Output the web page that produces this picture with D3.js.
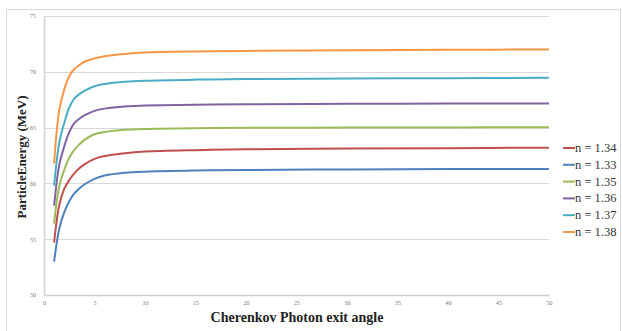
<!DOCTYPE html>
<html>
<head>
<meta charset="utf-8">
<script src="https://cdn.jsdelivr.net/npm/d3@7"></script>
<style>
  body { margin: 0; background: #fff; }
  text { font-family: "Liberation Serif", "Times New Roman", serif; }
</style>
</head>
<body>
<div id="chart"></div>
<script>
// angle values (x) shared by every series
const angles = [1, 1.5, 2, 2.5, 3, 3.5, 4, 5, 6, 8, 10, 15, 20, 30, 40, 50];

// one list of particle energies (MeV) per refractive index, legend order
const seriesNames = ["n = 1.34", "n = 1.33", "n = 1.35", "n = 1.36", "n = 1.37", "n = 1.38"];
const energyN134 = [54.7, 58.0, 59.5, 60.3, 60.9, 61.35, 61.7, 62.2, 62.45, 62.7, 62.85, 62.98, 63.05, 63.12, 63.16, 63.2];
const energyN133 = [53.0, 55.9, 57.4, 58.4, 59.1, 59.55, 59.9, 60.4, 60.7, 60.95, 61.05, 61.15, 61.2, 61.25, 61.28, 61.3];
const energyN135 = [56.4, 59.7, 61.2, 62.3, 63.0, 63.5, 63.9, 64.4, 64.6, 64.8, 64.88, 64.95, 64.98, 65.0, 65.02, 65.03];
const energyN136 = [58.0, 61.6, 63.3, 64.6, 65.4, 65.8, 66.1, 66.5, 66.7, 66.9, 66.97, 67.05, 67.1, 67.13, 67.15, 67.17];
const energyN137 = [59.8, 63.6, 65.4, 66.8, 67.6, 68.0, 68.3, 68.7, 68.9, 69.1, 69.2, 69.3, 69.35, 69.4, 69.43, 69.46];
const energyN138 = [61.8, 66.5, 68.4, 69.6, 70.25, 70.6, 70.9, 71.2, 71.4, 71.6, 71.72, 71.82, 71.87, 71.93, 71.97, 72.0];

const xTicks = [0, 5, 10, 15, 20, 25, 30, 35, 40, 45, 50];
const yTicks = [50, 55, 60, 65, 70, 75];

const colors = ["#C0504D", "#4F81BD", "#9BBB59", "#8064A2", "#4BACC6", "#F79646"];
const allSeries = [energyN134, energyN133, energyN135, energyN136, energyN137, energyN138];

const config = {
  width: 622,
  height: 331,
  margin: { top: 16, right: 73, bottom: 36, left: 44 }
};
config.innerW = config.width - config.margin.left - config.margin.right;
config.innerH = config.height - config.margin.top - config.margin.bottom;

const svg = d3.select("#chart").append("svg")
  .attr("width", config.width)
  .attr("height", config.height);

// outer chart frame
svg.append("rect")
  .attr("x", 6.5).attr("y", 9.5)
  .attr("width", 614).attr("height", 340)
  .attr("fill", "none")
  .attr("stroke", "#d9d9d9");

const g = svg.append("g")
  .attr("transform", `translate(${config.margin.left},${config.margin.top})`);

const x = d3.scaleLinear().domain([0, 50]).range([0, config.innerW]);
const y = d3.scaleLinear().domain([50, 75]).range([config.innerH, 0]);

// gridlines
g.append("g")
  .selectAll("line")
  .data(yTicks.filter(d => d > 50))
  .join("line")
  .attr("x1", 0).attr("x2", config.innerW)
  .attr("y1", d => Math.round(y(d)) + 0.5)
  .attr("y2", d => Math.round(y(d)) + 0.5)
  .attr("stroke", "#d9d9d9");

// axes
const xAxis = g.append("g")
  .attr("transform", `translate(0,${config.innerH})`)
  .call(d3.axisBottom(x).tickValues(xTicks).tickSize(0).tickPadding(6));
const yAxis = g.append("g")
  .call(d3.axisLeft(y).tickValues(yTicks).tickSize(0).tickPadding(8));

[xAxis, yAxis].forEach(a => {
  a.select(".domain").attr("stroke", "#d0d0d0").attr("stroke-width", 1.5);
  a.selectAll("text")
    .attr("fill", "#777")
    .style("font-size", "6px");
});

// series lines, smoothed like the spreadsheet original
const line = d3.line()
  .x((d, i) => x(angles[i]))
  .y(d => y(d))
  .curve(d3.curveCatmullRom.alpha(0.5));

g.append("g")
  .selectAll("path")
  .data(allSeries)
  .join("path")
  .attr("d", d => line(d))
  .attr("fill", "none")
  .attr("stroke", (d, i) => colors[i])
  .attr("stroke-width", 2);

// axis titles
svg.append("text")
  .attr("x", 297).attr("y", 322)
  .attr("text-anchor", "middle")
  .attr("font-weight", "bold")
  .style("font-size", "14px")
  .attr("fill", "#222")
  .text("Cherenkov Photon exit angle");

svg.append("text")
  .attr("transform", "translate(26,157) rotate(-90)")
  .attr("text-anchor", "middle")
  .attr("font-weight", "bold")
  .style("font-size", "13px")
  .attr("fill", "#222")
  .text("ParticleEnergy (MeV)");

// legend
const legend = svg.append("g")
  .selectAll("g")
  .data(seriesNames)
  .join("g")
  .attr("transform", (d, i) => `translate(563,${148 + i * 16.8})`);

legend.append("line")
  .attr("x1", 0).attr("x2", 12)
  .attr("stroke", (d, i) => colors[i])
  .attr("stroke-width", 2);

legend.append("text")
  .attr("x", 12).attr("y", 4)
  .style("font-size", "12.5px")
  .attr("fill", "#333")
  .text(d => d);
</script>
</body>
</html>
